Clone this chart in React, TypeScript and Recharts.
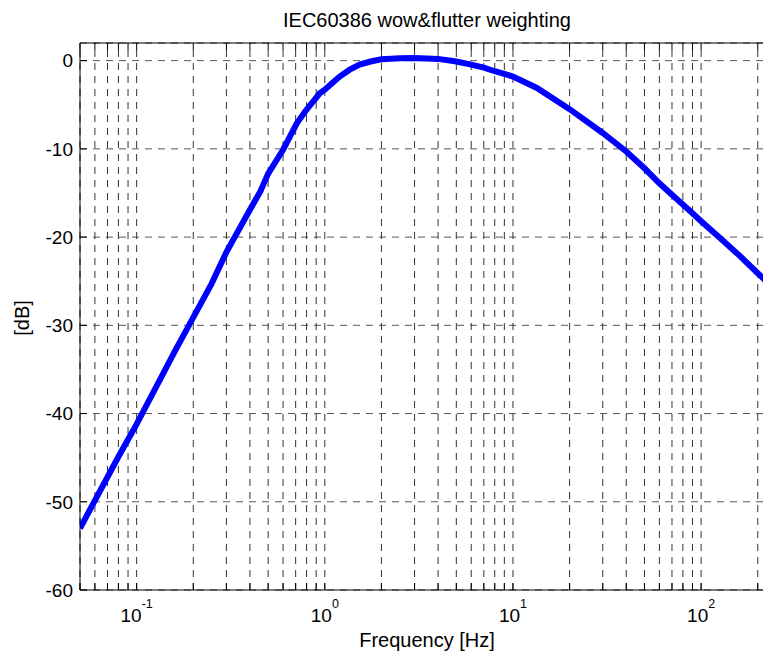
import { LineChart, Line, XAxis, YAxis, CartesianGrid, ReferenceLine } from 'recharts'

// frequency response (Hz, dB)
const FREQS = [
  0.05, 0.08, 0.1, 0.16, 0.2, 0.25, 0.3, 0.4, 0.455, 0.5,
  0.6, 0.71, 0.79, 0.94, 1, 1.1, 1.2, 1.35, 1.53, 1.75,
  2, 2.5, 3, 4, 5, 6, 7, 8, 9, 10,
  13.4, 20, 30, 40, 50, 60, 70, 80, 90, 100,
  126, 160, 200, 250,
]
const DB = [
  -53.0, -44.9, -41.2, -32.9, -29.1, -25.3, -21.7, -16.9, -14.8, -12.8,
  -10.1, -7.1, -5.7, -3.7, -3.3, -2.5, -1.8, -1.05, -0.45, -0.1,
  0.15, 0.28, 0.3, 0.2, -0.1, -0.45, -0.8, -1.2, -1.5, -1.8,
  -3.1, -5.5, -8.2, -10.3, -12.2, -13.9, -15.2, -16.3, -17.3, -18.2,
  -20.1, -22.1, -24.1, -26.0,
]

const X_DOMAIN: [number, number] = [0.05, 250]
const Y_DOMAIN: [number, number] = [-60, 2]
const Y_TICKS = [-60, -50, -40, -30, -20, -10, 0]
const DECADES = [0.01, 0.1, 1, 10, 100]
const X_GRID = DECADES.flatMap((d) => [1, 2, 3, 4, 5, 6, 7, 8, 9].map((m) => m * d))
  .filter((v) => v > 0.0499 && v < 201)

const FONT = '"Liberation Sans", Arial, Helvetica, sans-serif'
const PLOT_H = 547
const TICK_LEN = 7
const GRID_DASH = '7 6'

const data = FREQS.map((f, i) => ({ f, db: DB[i] }))

const isMajor = (v: number) => Math.abs(Math.log10(v) - Math.round(Math.log10(v))) < 1e-9

function XTick(props: any) {
  const { x, y, payload } = props
  const v = payload.value as number
  return (
    <g>
      <line x1={x} x2={x} y1={y} y2={y - TICK_LEN} stroke="#000" />
      <line x1={x} x2={x} y1={y - PLOT_H} y2={y - PLOT_H + TICK_LEN} stroke="#000" />
      {isMajor(v) && (
        <text x={x} y={y + 32} textAnchor="middle" fontFamily={FONT} fontSize={19} fill="#000">
          <tspan>10</tspan>
          <tspan dy={-14} fontSize={12.5}>{Math.round(Math.log10(v))}</tspan>
        </text>
      )}
    </g>
  )
}

function YTick(props: any) {
  const { x, y, payload } = props
  return (
    <g>
      <line x1={x} x2={x + TICK_LEN} y1={y} y2={y} stroke="#000" />
      <text x={x - 7} y={y} dy="0.36em" textAnchor="end" fontFamily={FONT} fontSize={19} fill="#000">
        {payload.value}
      </text>
    </g>
  )
}

export default function App() {
  return (
    <div style={{ position: 'fixed', left: 0, top: 0, width: 763, height: 655, overflow: 'hidden', background: '#fff' }}>
      <LineChart width={800} height={655} data={data} margin={{ top: 43, right: 24, bottom: 0, left: 0 }}>
        <CartesianGrid vertical={false} stroke="#555" strokeDasharray={GRID_DASH} />
        {X_GRID.map((v) => (
          <ReferenceLine key={v} x={v} stroke="#333" strokeDasharray={GRID_DASH} />
        ))}
        <ReferenceLine y={2} stroke="#000" />
        <ReferenceLine x={250} stroke="#000" />
        <XAxis
          dataKey="f"
          type="number"
          scale="log"
          domain={X_DOMAIN}
          allowDataOverflow
          ticks={X_GRID}
          interval={0}
          tick={<XTick />}
          tickLine={false}
          tickSize={0}
          tickMargin={0}
          height={65}
          axisLine={{ stroke: '#000' }}
        />
        <YAxis
          type="number"
          domain={Y_DOMAIN}
          allowDataOverflow
          ticks={Y_TICKS}
          interval={0}
          tick={<YTick />}
          tickLine={false}
          tickSize={0}
          tickMargin={0}
          width={80}
          axisLine={{ stroke: '#000' }}
        />
        <Line
          dataKey="db"
          type="linear"
          stroke="#0000ff"
          strokeWidth={6}
          dot={false}
          isAnimationActive={false}
        />
        <text x={427} y={27} textAnchor="middle" fontFamily={FONT} fontSize={20} fill="#000">
          IEC60386 wow&amp;flutter weighting
        </text>
        <text x={427} y={647} textAnchor="middle" fontFamily={FONT} fontSize={20} fill="#000">
          Frequency [Hz]
        </text>
        <text
          x={29}
          y={318}
          textAnchor="middle"
          transform="rotate(-90 29 318)"
          fontFamily={FONT}
          fontSize={20}
          fill="#000"
        >
          [dB]
        </text>
      </LineChart>
    </div>
  )
}
